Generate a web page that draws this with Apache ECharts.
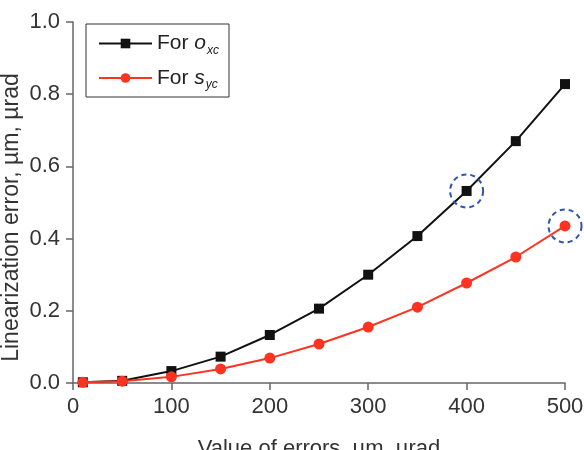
<!DOCTYPE html>
<html>
<head>
<meta charset="utf-8">
<script src="https://cdn.jsdelivr.net/npm/echarts@6/dist/echarts.min.js"></script>
<style>
html, body { margin: 0; padding: 0; background: #fff; }
#chart { width: 584px; height: 450px; }
</style>
</head>
<body>
<div id="chart"></div>
<script>
// 误差值 (µm, µrad)
const errValues = [10, 50, 100, 150, 200, 250, 300, 350, 400, 450, 500];
// For o_xc
const oxcData = [0.002, 0.006, 0.033, 0.073, 0.133, 0.206, 0.300, 0.407, 0.532, 0.670, 0.828];
// For s_yc
const sycData = [0.002, 0.005, 0.017, 0.039, 0.069, 0.108, 0.155, 0.210, 0.277, 0.349, 0.435];
const xTicks = [0, 100, 200, 300, 400, 500];
// 圈出的点（下标）
const circledOxc = 8, circledSyc = 10;

const pair = (xs, ys) => xs.map((x, i) => [x, ys[i]]);
const font = 'Liberation Sans, Arial, sans-serif';
const axisColor = '#666';

const circleMark = (x, y) => ({
    symbol: 'circle',
    symbolSize: 33,
    silent: true,
    label: { show: false },
    itemStyle: { color: 'rgba(0,0,0,0)', borderColor: '#2f55b0', borderWidth: 2, borderType: [5, 4] },
    data: [{ coord: [x, y] }]
});

let chart = echarts.init(document.getElementById('chart'));
chart.setOption({
    animation: false,
    textStyle: { fontFamily: font },
    grid: { left: 73, right: 19, top: 22, bottom: 67, containLabel: false, outerBoundsMode: 'none' },
    legend: {
        orient: 'vertical',
        left: 86,
        top: 24,
        padding: [9, 10, 6, 12],
        itemGap: 11,
        itemWidth: 53,
        itemHeight: 12,
        borderColor: '#333',
        borderWidth: 1,
        data: ['oxc', 'syc'],
        formatter: function (name) {
            return '{n|For }{i|' + name.charAt(0) + '}{s|' + name.slice(1) + '}';
        },
        textStyle: {
            rich: {
                n: { fontSize: 21, color: '#222', fontFamily: font },
                i: { fontSize: 21, color: '#222', fontStyle: 'italic', fontFamily: font },
                s: { fontSize: 12, color: '#222', fontStyle: 'italic', fontFamily: font, verticalAlign: 'bottom', padding: [14, 0, 0, 1] }
            }
        }
    },
    xAxis: {
        type: 'value',
        min: 0,
        max: 500,
        interval: 100,
        name: 'Value of errors, µm, µrad',
        nameLocation: 'middle',
        nameGap: 55,
        nameMoveOverlap: false,
        nameTextStyle: { fontSize: 22, color: '#333' },
        axisLine: { show: true, lineStyle: { color: axisColor, width: 1.5 } },
        axisTick: { show: true, length: 7, lineStyle: { color: axisColor, width: 1.5 } },
        axisLabel: { fontSize: 22, color: '#333', margin: 13,
            customValues: xTicks },
        splitLine: { show: false }
    },
    yAxis: {
        type: 'value',
        min: 0,
        max: 1,
        interval: 0.2,
        name: 'Linearization error, µm, µrad',
        nameLocation: 'middle',
        nameGap: 50,
        nameMoveOverlap: false,
        nameTextStyle: { fontSize: 23, color: '#333', padding: [0, 30, 0, 0] },
        axisLine: { show: true, lineStyle: { color: axisColor, width: 1.5 } },
        axisTick: { show: true, length: 7, lineStyle: { color: axisColor, width: 1.5 } },
        axisLabel: { fontSize: 22, color: '#333', margin: 13,
            formatter: v => v.toFixed(1) },
        splitLine: { show: false }
    },
    series: [{
        name: 'oxc',
        type: 'line',
        data: pair(errValues, oxcData),
        symbol: 'rect',
        symbolSize: 10,
        lineStyle: { color: '#111', width: 2 },
        itemStyle: { color: '#111' },
        markPoint: circleMark(errValues[circledOxc], oxcData[circledOxc])
    }, {
        name: 'syc',
        type: 'line',
        data: pair(errValues, sycData),
        symbol: 'circle',
        symbolSize: 11,
        lineStyle: { color: '#ff3322', width: 2 },
        itemStyle: { color: '#ff3322' },
        markPoint: circleMark(errValues[circledSyc], sycData[circledSyc])
    }]
});
</script>
</body>
</html>
